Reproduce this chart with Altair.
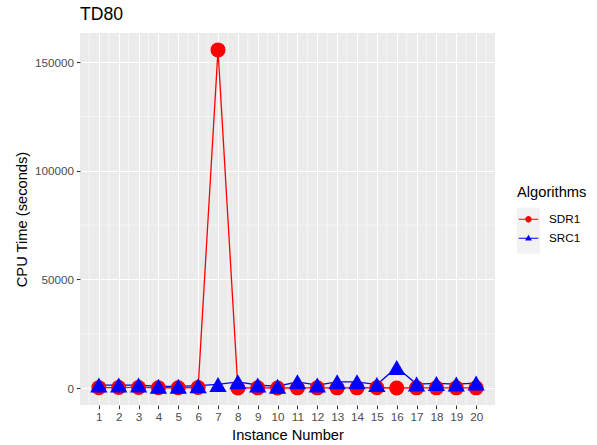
import altair as alt
import pandas as pd

# Instance numbers and CPU times (seconds) per algorithm
instances = list(range(1, 21))
sdr1 = [200, 250, 300, 150, 150, 250, 155700, 50, 100, 50, 100, 100, 100, 100, 150, 50, 100, 100, 100, 100]
src1 = [1400, 1400, 1400, 800, 800, 1100, 1700, 2900, 1400, 850, 2900, 1400, 2900, 2900, 1600, 9500, 1850, 2150, 1850, 2300]
algorithms = ["SDR1", "SRC1"]
colors = ["#FF0000", "#0000FF"]

x_breaks = instances
y_breaks = [0, 50000, 100000, 150000]
x_minor = [i + 0.5 for i in range(0, 21)]
y_minor = [25000, 75000, 125000]

rows = []
for alg, vals in zip(algorithms, [sdr1, src1]):
    for inst, v in zip(instances, vals):
        rows.append({"Instance": inst, "CPU": v, "Series": alg, "Algorithms": alg})
df = pd.DataFrame(rows)

xscale = alt.Scale(domain=[0.05, 20.95], nice=False, zero=False)
yscale = alt.Scale(domain=[-7785, 163485], nice=False, zero=False)

FONT = "Liberation Sans"

x_axis = alt.Axis(values=x_breaks, labelAngle=0, grid=True, titlePadding=4,
                  labelFlush=False, labelOverlap=False)
y_axis = alt.Axis(values=y_breaks, format="d", grid=True, titlePadding=5,
                  labelOverlap=False)

x_enc = alt.X("Instance:Q", scale=xscale, title="Instance Number", axis=x_axis)
y_enc = alt.Y("CPU:Q", scale=yscale, title="CPU Time (seconds)", axis=y_axis)

# legend glyphs: a line segment with the point marker on top
sdr_glyph = ("M-0.85,-0.05L0.85,-0.05L0.85,0.05L-0.85,0.05Z "
             "M0.28,0A0.28,0.28,0,1,1,-0.28,0A0.28,0.28,0,1,1,0.28,0Z")
src_glyph = ("M-0.85,-0.05L0.85,-0.05L0.85,0.05L-0.85,0.05Z "
             "M0,-0.3L0.3,0.2L-0.3,0.2Z")

LEGEND_X = 437
LEGEND_Y = 152
TITLE_SIZE = 14.7
TITLE_PAD = 8

legend_common = dict(
    orient="none", legendX=LEGEND_X,
    symbolSize=529, symbolStrokeWidth=0, symbolOpacity=1,
    labelFontSize=11.7, labelFont=FONT, labelColor="black",
    rowPadding=0, labelOffset=9, symbolOffset=0,
)

vgrid = alt.Chart(pd.DataFrame({"v": x_minor})).mark_rule(
    color="white", strokeWidth=0.55
).encode(x=alt.X("v:Q", scale=xscale, title="Instance Number", axis=x_axis))

hgrid = alt.Chart(pd.DataFrame({"v": y_minor})).mark_rule(
    color="white", strokeWidth=0.55
).encode(y=alt.Y("v:Q", scale=yscale, title="CPU Time (seconds)", axis=y_axis))

base = alt.Chart(df)

lines = base.mark_line(strokeWidth=1.3).encode(
    x=x_enc, y=y_enc,
    color=alt.Color("Series:N", scale=alt.Scale(domain=algorithms, range=colors), legend=None),
    detail="Series:N",
)

points = base.mark_point(filled=True, opacity=1).encode(
    x=x_enc,
    y=y_enc,
    color=alt.Color("Series:N", scale=alt.Scale(domain=algorithms, range=colors), legend=None),
    shape=alt.Shape("Series:N", scale=alt.Scale(domain=algorithms, range=["circle", "triangle-up"]), legend=None),
    size=alt.Size("Series:N", scale=alt.Scale(domain=algorithms, range=[225, 300]), legend=None),
)

# legend-only layers: no rows pass the filter, entries come from the fixed domains
key_boxes = base.mark_point(filled=True, opacity=1).encode(
    x=x_enc,
    y=y_enc,
    color=alt.Color(
        "Algorithms:N",
        scale=alt.Scale(domain=algorithms, range=["#F2F2F2", "#F2F2F2"]),
        legend=alt.Legend(symbolType="square", labelExpr="''", title=None,
                          legendY=LEGEND_Y + TITLE_SIZE + TITLE_PAD,
                          **legend_common),
    ),
).transform_filter("datum.CPU < 0")

key_glyphs = base.mark_point(filled=True, opacity=1).encode(
    x=x_enc,
    y=y_enc,
    fill=alt.Fill(
        "Algorithms:N",
        scale=alt.Scale(domain=algorithms, range=colors),
        legend=alt.Legend(
            legendY=LEGEND_Y,
            titleFontSize=TITLE_SIZE, titleFont=FONT, titleFontWeight="normal",
            titleColor="black", titlePadding=TITLE_PAD,
            **legend_common),
    ),
    shape=alt.Shape(
        "Algorithms:N",
        scale=alt.Scale(domain=algorithms, range=[sdr_glyph, src_glyph]),
    ),
).transform_filter("datum.CPU < 0")

chart = alt.layer(vgrid, hgrid, lines, points, key_boxes, key_glyphs).resolve_scale(
    color="independent", shape="independent", fill="independent"
).properties(
    width=415,
    height=372,
    padding={"left": 80, "top": 33, "right": 102, "bottom": 40},
    autosize=alt.AutoSizeParams(type="none"),
    title=alt.TitleParams(
        "TD80", anchor="start", font=FONT, fontSize=17.6, fontWeight="normal",
        color="black", offset=9, frame="group",
    ),
).configure(
    background="white"
).configure_view(
    fill="#EBEBEB", strokeWidth=0
).configure_axis(
    labelFont=FONT, labelFontSize=11.7, labelColor="#4D4D4D",
    tickColor="#333333", tickSize=3.7, tickWidth=1.07,
    domain=False, gridColor="white", gridWidth=1.07,
    titleFont=FONT, titleFontSize=14.7, titleColor="black",
    titleFontWeight="normal", labelPadding=2.9,
).configure_axisX(labelOverlap=False)

chart.save("out.html", embed_options={"renderer": "svg", "actions": False})
